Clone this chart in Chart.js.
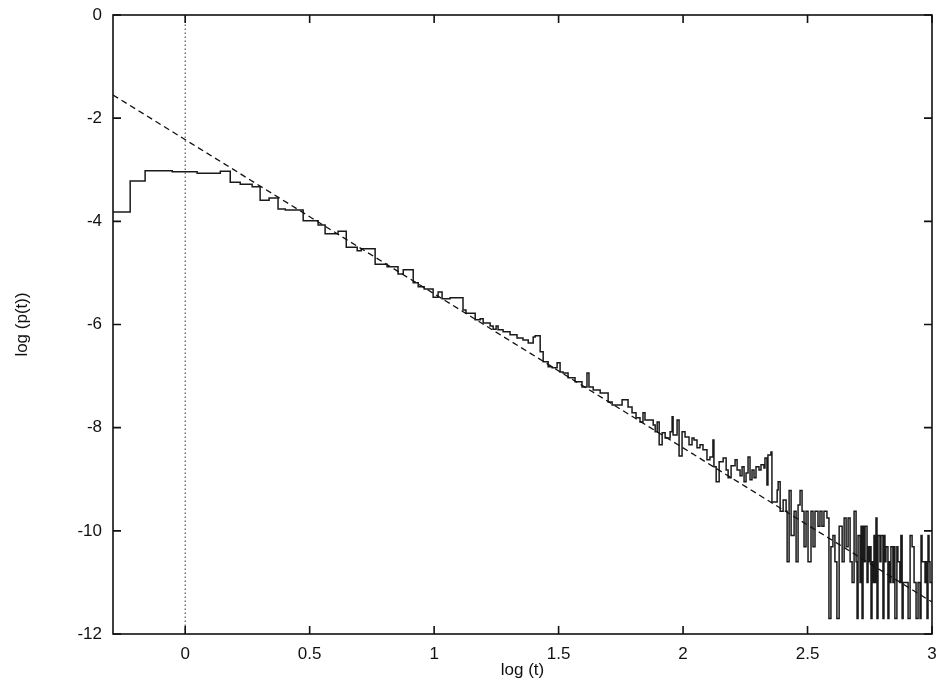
<!DOCTYPE html>
<html>
<head>
<meta charset="utf-8">
<script src="https://cdn.jsdelivr.net/npm/chart.js@4/dist/chart.umd.min.js"></script>
<style>
html,body{margin:0;padding:0;background:#fff;}
canvas{display:block;}
</style>
</head>
<body>
<canvas id="c" width="939" height="686"></canvas>
<script>
// ---- data ----
const xTickValues = [0, 0.5, 1, 1.5, 2, 2.5, 3];
const yTickValues = [0, -2, -4, -6, -8, -10, -12];

// step histogram: left edge of each step (log t) and its level log p(t)
const stepX = [
 -0.289,-0.221,-0.161,-0.052,0.048,0.141,0.181,0.221,0.269,0.301,0.337,0.373,0.402,0.474,0.534,0.562,0.614,0.647,0.691,0.707,
 0.763,0.811,0.855,0.876,0.916,0.936,0.960,0.996,1.016,1.032,1.064,1.116,1.128,1.165,1.185,1.197,1.225,1.237,1.249,1.257,
 1.277,1.305,1.333,1.357,1.378,1.398,1.406,1.426,1.438,1.458,1.474,1.494,1.506,1.518,1.538,1.566,1.594,1.614,1.622,1.639,
 1.667,1.699,1.715,1.755,1.779,1.795,1.811,1.827,1.839,1.847,1.880,1.888,1.896,1.904,1.916,1.928,1.948,1.956,1.960,1.976,
 1.984,1.996,2.008,2.024,2.036,2.044,2.056,2.068,2.080,2.096,2.108,2.120,2.124,2.133,2.145,2.161,2.173,2.181,2.193,2.209,
 2.217,2.229,2.237,2.245,2.253,2.261,2.269,2.277,2.285,2.293,2.305,2.313,2.325,2.329,2.337,2.341,2.353,2.357,2.378,2.382,
 2.390,2.402,2.414,2.418,2.426,2.434,2.446,2.454,2.462,2.470,2.478,2.486,2.494,2.502,2.514,2.522,2.530,2.542,2.550,2.558,
 2.566,2.578,2.586,2.594,2.602,2.610,2.618,2.627,2.639,2.647,2.655,2.663,2.671,2.679,2.687,2.695,2.699,2.703,2.711,2.715,
 2.719,2.723,2.727,2.731,2.739,2.743,2.747,2.751,2.755,2.759,2.763,2.767,2.771,2.775,2.779,2.783,2.791,2.795,2.803,2.807,
 2.811,2.815,2.823,2.827,2.831,2.835,2.843,2.847,2.851,2.859,2.863,2.871,2.875,2.880,2.884,2.904,2.912,2.920,2.928,2.936,
 2.944,2.952,2.956,2.960,2.968,2.972,2.976,2.980,2.984,2.988,2.992,3.000
];
const stepY = [
 -3.82,-3.22,-3.02,-3.04,-3.07,-3.03,-3.24,-3.28,-3.33,-3.59,-3.55,-3.76,-3.78,-3.99,-4.07,-4.24,-4.19,-4.50,-4.57,-4.53,
 -4.83,-4.88,-5.02,-4.94,-5.19,-5.27,-5.31,-5.47,-5.37,-5.50,-5.48,-5.72,-5.78,-5.91,-5.89,-5.97,-6.03,-6.09,-6.03,-6.10,
 -6.14,-6.20,-6.26,-6.30,-6.36,-6.24,-6.22,-6.53,-6.72,-6.82,-6.84,-6.74,-6.92,-6.94,-7.03,-7.11,-7.21,-6.94,-7.21,-7.27,
 -7.33,-7.50,-7.56,-7.46,-7.60,-7.71,-7.81,-7.89,-7.71,-7.85,-7.95,-8.08,-7.89,-8.33,-8.10,-8.20,-8.08,-7.79,-8.14,-7.85,
 -8.55,-8.08,-8.18,-8.33,-8.20,-8.24,-8.39,-8.33,-8.43,-8.62,-8.57,-8.24,-8.76,-9.05,-8.66,-8.59,-8.82,-8.97,-8.74,-8.62,
 -8.82,-8.93,-8.76,-9.05,-8.88,-8.57,-9.01,-8.82,-8.97,-8.76,-8.82,-8.72,-8.78,-8.59,-9.11,-8.53,-8.47,-9.44,-9.21,-9.05,
 -9.62,-9.40,-9.62,-10.60,-9.22,-10.09,-9.62,-10.60,-9.50,-9.22,-9.62,-10.31,-9.62,-10.60,-9.62,-10.31,-9.62,-9.91,-9.62,-9.91,
 -9.62,-9.75,-11.70,-10.31,-10.09,-10.60,-11.70,-9.91,-10.60,-9.75,-10.31,-9.75,-10.60,-11.00,-9.62,-10.60,-11.70,-10.09,-11.00,-9.91,
 -11.70,-9.91,-10.60,-9.91,-11.00,-10.31,-10.60,-10.31,-11.70,-10.60,-11.00,-10.09,-11.00,-9.75,-11.70,-10.09,-10.60,-10.09,-11.70,-10.09,
 -10.60,-10.31,-11.70,-10.60,-11.00,-10.31,-11.00,-10.31,-11.70,-10.31,-10.60,-11.00,-10.09,-11.70,-11.00,-11.70,-10.09,-10.31,-11.00,-11.70,
 -11.00,-11.70,-10.09,-10.60,-10.60,-11.00,-10.60,-11.70,-10.09,-10.60,-11.00,-11.00
];

// fitted power law (dashed line) end points
const fitX = [-0.29, 3];
const fitY = [-1.55, -11.38];

// dotted vertical reference at log t = 0
const refX = [0, 0];
const refY = [-12, 0];

const xMin = -0.29, xMax = 3, yMin = -12, yMax = 0;

// ---- build ----
const toPts = (xs, ys) => xs.map((x, i) => ({x, y: ys[i]}));

const frameAndTicks = {
  id: 'frameAndTicks',
  afterDraw(chart) {
    const {ctx, chartArea: a, scales} = chart;
    ctx.save();
    ctx.strokeStyle = '#111';
    ctx.lineWidth = 1.6;
    ctx.strokeRect(a.left, a.top, a.right - a.left, a.bottom - a.top);
    const L = 8;
    ctx.beginPath();
    xTickValues.forEach(v => {
      const px = scales.x.getPixelForValue(v);
      ctx.moveTo(px, a.bottom); ctx.lineTo(px, a.bottom - L);
      ctx.moveTo(px, a.top); ctx.lineTo(px, a.top + L);
    });
    yTickValues.forEach(v => {
      const py = scales.y.getPixelForValue(v);
      ctx.moveTo(a.left, py); ctx.lineTo(a.left + L, py);
      ctx.moveTo(a.right, py); ctx.lineTo(a.right - L, py);
    });
    ctx.stroke();
    ctx.restore();
  }
};

const font = {family: '"Liberation Sans", Arial, Helvetica, sans-serif', size: 17};

new Chart(document.getElementById('c'), {
  type: 'line',
  data: {
    datasets: [
      {
        label: 'reference',
        data: toPts(refX, refY),
        borderColor: '#333',
        borderWidth: 1,
        borderDash: [1.5, 2.5],
        pointRadius: 0,
        fill: false
      },
      {
        label: 'fit',
        data: toPts(fitX, fitY),
        borderColor: '#111',
        borderWidth: 1.3,
        borderDash: [6, 4],
        pointRadius: 0,
        fill: false
      },
      {
        label: 'p(t)',
        data: toPts(stepX, stepY),
        stepped: 'before',
        borderColor: '#1a1a1a',
        borderWidth: 1.5,
        pointRadius: 0,
        fill: false
      }
    ]
  },
  options: {
    responsive: false,
    animation: false,
    devicePixelRatio: 1,
    layout: {padding: {left: 0, right: 7, top: 15, bottom: 0}},
    plugins: {legend: {display: false}, tooltip: {enabled: false}},
    scales: {
      x: {
        type: 'linear',
        min: xMin, max: xMax,
        afterBuildTicks: s => { s.ticks = xTickValues.map(v => ({value: v})); },
        afterFit: s => { s.height = 52; s.paddingLeft = 0; s.paddingRight = 0; },
        grid: {display: false, drawTicks: false},
        border: {display: false},
        ticks: {color: '#111', font, padding: 10, maxRotation: 0, autoSkip: false,
                callback: v => String(v)},
        title: {display: true, text: 'log (t)', color: '#111', font, padding: {top: 0, bottom: 5}}
      },
      y: {
        type: 'linear',
        min: yMin, max: yMax,
        afterBuildTicks: s => { s.ticks = yTickValues.map(v => ({value: v})); },
        afterFit: s => { s.width = 113; s.paddingTop = 0; s.paddingBottom = 0; },
        grid: {display: false, drawTicks: false},
        border: {display: false},
        ticks: {color: '#111', font, padding: 11, autoSkip: false,
                callback: v => String(v)},
        title: {display: true, text: 'log (p(t))', color: '#111', font, padding: {top: 12, bottom: 0}}
      }
    }
  },
  plugins: [frameAndTicks]
});
</script>
</body>
</html>
